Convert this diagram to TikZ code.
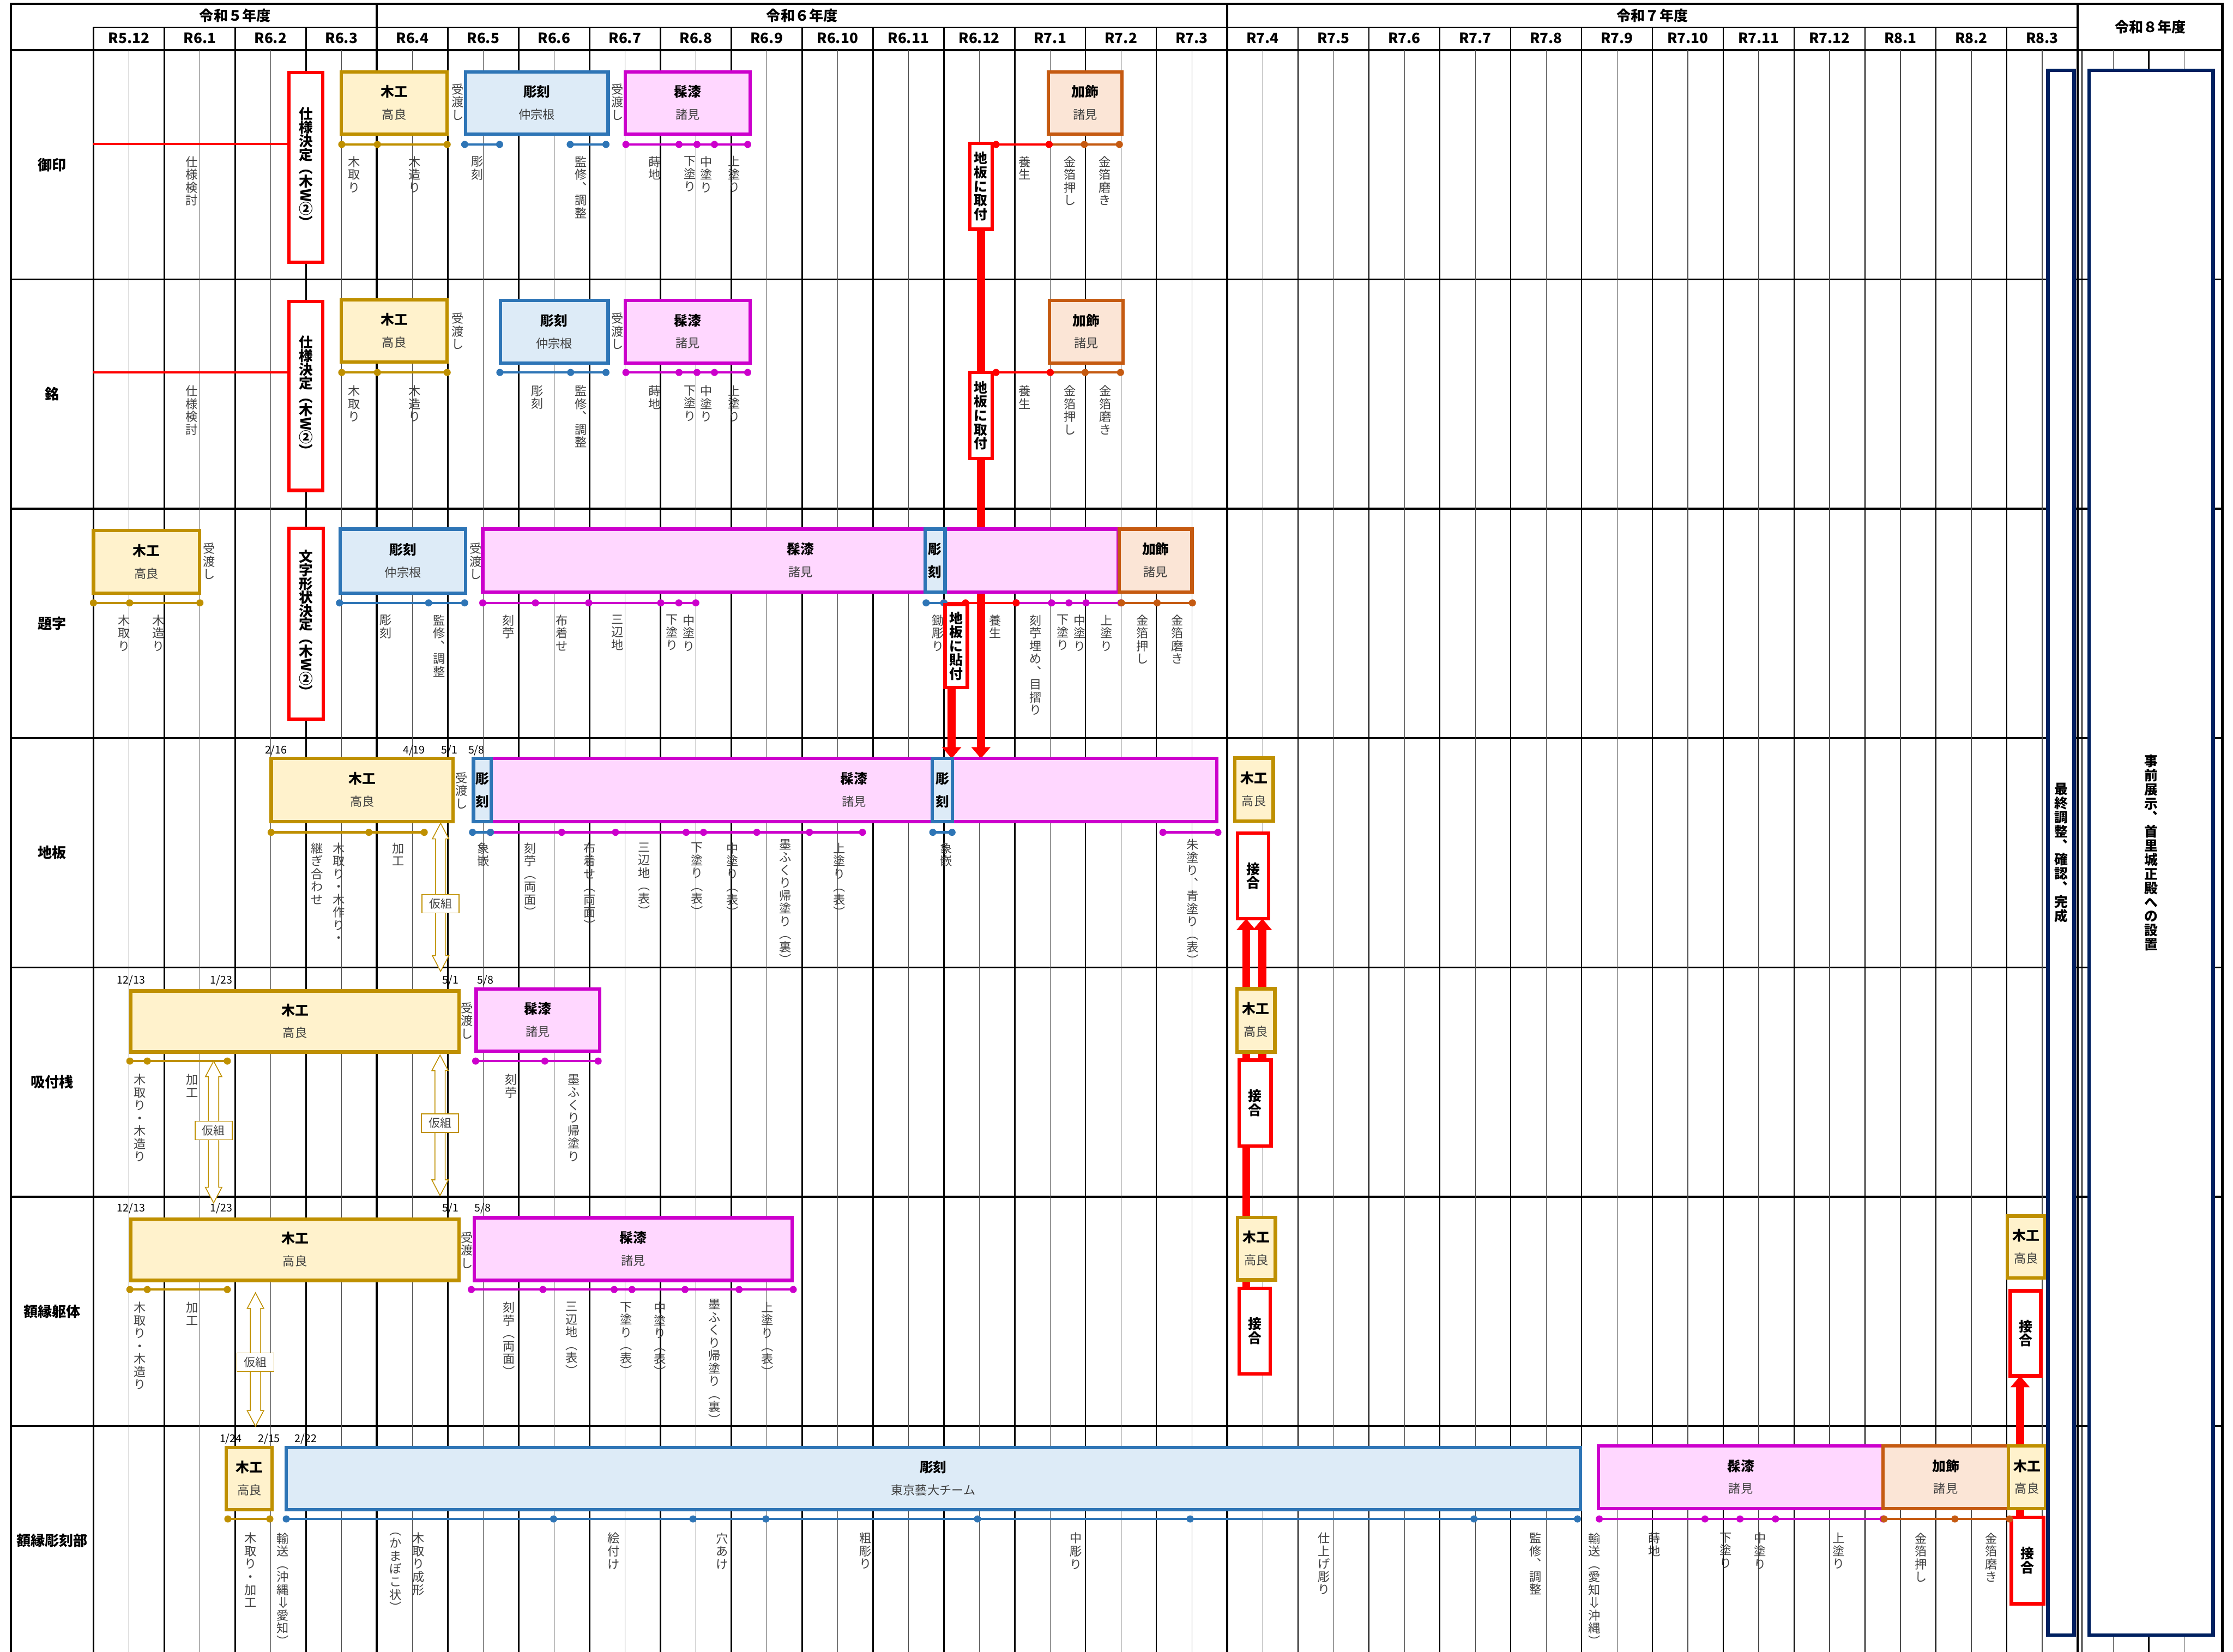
\documentclass[tikz,border=0pt]{standalone}
\usepackage{fontspec}
\setmainfont{Noto Sans CJK JP}
\usepackage{graphicx}
\usetikzlibrary{calc,arrows.meta}
\pgfdeclarelayer{gridl}
\pgfdeclarelayer{bgl}
\pgfsetlayers{gridl,bgl,main}

\definecolor{gold}{HTML}{BF9000}
\definecolor{goldfill}{HTML}{FFF2CC}
\definecolor{cblue}{HTML}{2E75B6}
\definecolor{bluefill}{HTML}{DDEBF7}
\definecolor{mag}{HTML}{CC00CC}
\definecolor{magfill}{HTML}{FFD7FF}
\definecolor{orng}{HTML}{C55A11}
\definecolor{orngfill}{HTML}{FBE5D6}
\definecolor{navy}{HTML}{002060}
\definecolor{labgray}{HTML}{404040}
\definecolor{redc}{HTML}{FF0000}

% vertical (tategaki) stacking of characters
\def\vsEND{\vsEND}
\def\vsENDm{\vsEND}
\def\vstkA#1{\def\vstmp{#1}\ifx\vstmp\vsENDm\else\hbox to 1.05em{\hss#1\hss}\expandafter\vstkA\fi}
\newcommand\vstk[1]{\vtop{\lineskiplimit=-100pt\relax\lineskip=0pt\relax\vstkA#1\vsEND}}
\newcommand\RW{\rotatebox[origin=c]{-90}{W}}
\newcommand\DA{\rotatebox[origin=c]{-90}{⇒}}

\tikzset{
  bxbase/.style={inner sep=0pt, outer sep=0pt, line width=2.4pt},
  goldbox/.style={bxbase, draw=gold, fill=goldfill},
  bluebox/.style={bxbase, draw=cblue, fill=bluefill},
  magbox/.style={bxbase, draw=mag, fill=magfill},
  orbox/.style={bxbase, draw=orng, fill=orngfill},
  redbox/.style={bxbase, draw=redc, fill=white},
  navybox/.style={bxbase, draw=navy, fill=white},
  boxttl/.style={inner sep=0pt, font=\fontsize{9.5pt}{11pt}\selectfont\bfseries},
  boxsub/.style={inner sep=0pt, text=labgray, font=\fontsize{8.5pt}{10pt}\selectfont},
  vlab/.style={inner sep=0pt, anchor=north, text=labgray, font=\fontsize{8.5pt}{9pt}\selectfont},
  vred/.style={inner sep=0pt, font=\fontsize{9.8pt}{9.5pt}\selectfont\bfseries},
  vjoin/.style={inner sep=0pt, font=\fontsize{9.5pt}{9.8pt}\selectfont\bfseries},
  vnavy/.style={inner sep=0pt, font=\fontsize{9.5pt}{9.9pt}\selectfont\bfseries},
  datelab/.style={inner sep=0pt, font=\fontsize{7.5pt}{9pt}\selectfont},
  rowlab/.style={inner sep=0pt, font=\fontsize{10pt}{12pt}\selectfont\bfseries},
  hdr/.style={inner sep=0pt, font=\fontsize{10pt}{12pt}\selectfont\bfseries},
  kumilab/.style={draw=gold, fill=white, line width=0.6pt, minimum width=26pt, minimum height=13pt, inner sep=0pt, text=labgray, font=\fontsize{8pt}{9pt}\selectfont},
  kumiarr/.style={draw=gold, fill=white, line width=0.6pt},
  redthick/.style={draw=redc, line width=5.5pt},
  redtip/.style={-{Triangle[width=13pt,length=8pt]}},
  monthl/.style={line width=1pt, black},
  halfl/.style={line width=0.45pt, black!70},
  yearl/.style={line width=1.6pt, black},
  rowl/.style={line width=1.3pt, black},
}

\newcount\labn
\newcommand\bx[6]{\node[#2, anchor=north west, minimum width={(#5)-(#3)}, minimum height={(#6)-(#4)}] (#1) at (#3,#4) {};}
\newcommand\bt[3]{\node[boxttl] (#1-t) at ($(#1.center)+(0,-8)$) {#2};\node[boxsub] (#1-s) at ($(#1.center)+(0,8)$) {#3};}
\newcommand\bv[1]{\node[boxttl] (#1-t) at ($(#1.center)+(0,-8)$) {彫};\node[boxttl] (#1-s) at ($(#1.center)+(0,8)$) {刻};}
\newcommand\vl[3]{\global\advance\labn by 1 \node[vlab] (L\the\labn) at (#1,#2) {\vstk{#3}};}
\newcommand\tline[5]{\draw[draw=#1, line width=1.7pt] (#3,#2) -- (#4,#2);\foreach \a in {#3,#4#5}{\fill[#1] (\a,#2) circle[radius=2.5pt];}}
\newcommand\kumi[5]{%
  \draw[kumiarr] (#2-3.6,#3+11) -- (#2-5.8,#3+11) -- (#2,#3) -- (#2+5.8,#3+11) -- (#2+3.6,#3+11) -- (#2+3.6,#4-11) -- (#2+5.8,#4-11) -- (#2,#4) -- (#2-5.8,#4-11) -- (#2-3.6,#4-11) -- cycle;
  \node[kumilab] (#1) at (#2,#5) {仮組};}

\begin{document}
\begin{tikzpicture}[x=1pt,y=-1pt]
\useasboundingbox (0,0) rectangle (1568,1159.6);

% ---------------- grid ----------------
\begin{pgfonlayer}{gridl}
\fill[white] (0,0) rectangle (1568,1159.6);
\draw[line width=0.8pt] (65.6,19) -- (1458.9,19);
\foreach \yy in {35.2,196.2,357.2,518.2,679.2,840.2,1001.2} \draw[rowl] (7.5,\yy) -- (1560.5,\yy);
\foreach \i in {0,...,27}{\pgfmathsetmacro\xx{65.6+49.76*(\i+0.5)}\draw[halfl] (\xx,35.2) -- (\xx,1170);}
\foreach \i in {0,...,28}{\pgfmathsetmacro\xx{65.6+49.76*\i}\draw[monthl] (\xx,19) -- (\xx,1170);}
\foreach \i in {4,16,28}{\pgfmathsetmacro\xx{65.6+49.76*\i}\draw[yearl] (\xx,2.8) -- (\xx,1170);}
\draw[line width=0.8pt] (1461.8,35.2) -- (1461.8,1170);
\draw[monthl] (1508.8,35.2) -- (1508.8,1170);
\draw[halfl] (1483.9,35.2) -- (1483.9,1170);
\draw[halfl] (1533.6,35.2) -- (1533.6,1170);
\draw[yearl] (7.5,1170) -- (7.5,2.8) -- (1560.5,2.8) -- (1560.5,1170);
\end{pgfonlayer}

% ---------------- header ----------------
\node[hdr] (h5) at (165.1,10.8) {令和５年度};
\node[hdr] (h6) at (563.2,10.8) {令和６年度};
\node[hdr] (h7) at (1160.3,10.8) {令和７年度};
\node[hdr] (h8) at (1510,19) {令和８年度};
\foreach \m [count=\k from 0] in {R5.12,R6.1,R6.2,R6.3,R6.4,R6.5,R6.6,R6.7,R6.8,R6.9,R6.10,R6.11,R6.12,R7.1,R7.2,R7.3,R7.4,R7.5,R7.6,R7.7,R7.8,R7.9,R7.10,R7.11,R7.12,R8.1,R8.2,R8.3}
  \node[hdr] (m\k) at ({65.6+49.76*(\k+0.5)},26.6) {\m};

% ---------------- row labels ----------------
\node[rowlab] (r1) at (36.5,115.7) {御印};
\node[rowlab] (r2) at (36.5,276.7) {銘};
\node[rowlab] (r3) at (36.5,437.7) {題字};
\node[rowlab] (r4) at (36.5,598.7) {地板};
\node[rowlab] (r5) at (36.5,759.7) {吸付桟};
\node[rowlab] (r6) at (36.5,920.7) {額縁躯体};
\node[rowlab] (r7) at (36.5,1081.7) {額縁彫刻部};

% ================= 御印 =================
\coordinate (rl1) at (65.6,101.2);
\bx{g1s}{redbox}{203}{51}{226.7}{184}
\draw[redc, line width=1.5pt] (rl1) -- (rl1 -| g1s.west);
\bx{g1k}{goldbox}{239.6}{50.5}{314}{94.3}
\bx{g1c}{bluebox}{327}{50.5}{427}{94.3}
\bx{g1u}{magbox}{439}{50.5}{526.8}{94.3}
\bx{g1d}{orbox}{736}{50.5}{787.8}{94.3}
\bt{g1k}{木工}{高良}
\bt{g1c}{彫刻}{仲宗根}
\bt{g1u}{髹漆}{諸見}
\bt{g1d}{加飾}{諸見}
\tline{gold}{101.4}{240}{314}{,265}
\tline{cblue}{101.4}{326.3}{350.8}{}
\tline{cblue}{101.4}{400.4}{425.5}{}
\tline{mag}{101.4}{439.5}{525}{,476.8,489.4,501.7}
\tline{orng}{101.4}{736.7}{786}{,761.4}
\tline{redc}{101.4}{699.4}{736.7}{}
\bx{g1j}{redbox}{681}{100.6}{696.6}{161}
\node[vred] at (g1s.center) {\vstk{仕様決定︵木\RW②︶}};
\node[vjoin] at (g1j.center) {\vstk{地板に取付}};
\vl{321.5}{58.5}{受渡し}
\vl{433.6}{58.5}{受渡し}
\vl{134.6}{109.5}{仕様検討}
\vl{248.5}{109.5}{木取り}
\vl{291}{109.5}{木造り}
\vl{335}{109.5}{彫刻}
\vl{408}{109.5}{監修︑調整}
\vl{459.5}{109.5}{蒔地}
\vl{484.3}{109.5}{下塗り}
\vl{496}{109.5}{中塗り}
\vl{515.6}{109.5}{上塗り}
\vl{719.4}{109.5}{養生}
\vl{751.4}{109.5}{金箔押し}
\vl{775.9}{109.5}{金箔磨き}

% ================= 銘 =================
\coordinate (rl2) at (65.6,261.5);
\bx{g2s}{redbox}{203}{211.6}{226.7}{344.3}
\draw[redc, line width=1.5pt] (rl2) -- (rl2 -| g2s.west);
\bx{g2k}{goldbox}{239.6}{210.5}{314}{254.2}
\bx{g2c}{bluebox}{351.4}{211}{427}{255}
\bx{g2u}{magbox}{439}{211}{526.8}{255}
\bx{g2d}{orbox}{737}{211}{788.5}{255}
\bt{g2k}{木工}{高良}
\bt{g2c}{彫刻}{仲宗根}
\bt{g2u}{髹漆}{諸見}
\bt{g2d}{加飾}{諸見}
\tline{gold}{261.5}{240}{314}{,265}
\tline{cblue}{261.5}{351}{425.5}{,400.7}
\tline{mag}{261.5}{439.5}{525}{,476.8,489.4,501.7}
\tline{orng}{261.5}{737.5}{786.8}{,762}
\tline{redc}{261.5}{699.4}{737.5}{}
\bx{g2j}{redbox}{681}{261.5}{696.6}{322}
\node[vred] at (g2s.center) {\vstk{仕様決定︵木\RW②︶}};
\node[vjoin] at (g2j.center) {\vstk{地板に取付}};
\vl{321.5}{219.5}{受渡し}
\vl{433.6}{219.5}{受渡し}
\vl{134.6}{270.5}{仕様検討}
\vl{248.5}{270.5}{木取り}
\vl{291}{270.5}{木造り}
\vl{377.3}{270.5}{彫刻}
\vl{408}{270.5}{監修︑調整}
\vl{459.5}{270.5}{蒔地}
\vl{484.3}{270.5}{下塗り}
\vl{496}{270.5}{中塗り}
\vl{515.6}{270.5}{上塗り}
\vl{719.4}{270.5}{養生}
\vl{751.4}{270.5}{金箔押し}
\vl{776}{270.5}{金箔磨き}

% ================= 題字 =================
\bx{g3k}{goldbox}{65.6}{372.6}{140}{416.5}
\bx{g3s}{redbox}{203}{371}{227}{504.8}
\bx{g3c}{bluebox}{239}{371.5}{327}{416.5}
\bx{g3u}{magbox}{339}{371.5}{785.3}{415.8}
\bx{g3c2}{bluebox}{649.5}{371.5}{663.6}{415.8}
\bx{g3d}{orbox}{786}{371.5}{837}{415.8}
\bt{g3k}{木工}{高良}
\bt{g3c}{彫刻}{仲宗根}
\bt{g3u}{髹漆}{諸見}
\bv{g3c2}
\bt{g3d}{加飾}{諸見}
\tline{gold}{423.3}{65.6}{140.4}{,91}
\tline{cblue}{423.3}{238.4}{326.3}{,301}
\tline{mag}{423.3}{339}{488.6}{,376,413.4,464,476.7}
\tline{mag}{423.3}{713.5}{787}{,738.4,750.6,762.6}
\tline{orng}{423.3}{787.5}{837.3}{,812.5}
\tline{redc}{423.3}{662.8}{713.5}{,678}
\tline{cblue}{423.3}{650.3}{662.8}{}
\bx{g3t}{redbox}{663.6}{424.4}{679.3}{482.8}
\node[vred] at (g3s.center) {\vstk{文字形状決定︵木\RW②︶}};
\node[vjoin] at (g3t.center) {\vstk{地板に貼付}};
\vl{147}{381}{受渡し}
\vl{334}{381}{受渡し}
\vl{87}{431.5}{木取り}
\vl{111.2}{431.5}{木造り}
\vl{271}{431.5}{彫刻}
\vl{308.4}{431.5}{監修︑調整}
\vl{357}{431.5}{刻苧}
\vl{394.5}{431.5}{布着せ}
\vl{433.5}{431.5}{三辺地}
\vl{472}{431.5}{下塗り}
\vl{483.8}{431.5}{中塗り}
\vl{658.5}{431.5}{鋤彫り}
\vl{698.8}{431.5}{養生}
\vl{727}{431.5}{刻苧埋め︑目摺り}
\vl{746.3}{431.5}{下塗り}
\vl{758.3}{431.5}{中塗り}
\vl{777}{431.5}{上塗り}
\vl{802.2}{431.5}{金箔押し}
\vl{826.7}{431.5}{金箔磨き}

% ================= 地板 =================
\bx{g4k}{goldbox}{190.4}{532.6}{318.2}{577}
\bx{g4u}{magbox}{345}{532.6}{854.3}{577}
\bx{g4c}{bluebox}{332.5}{532.6}{345}{577}
\bx{g4c2}{bluebox}{654.6}{532.6}{668.7}{577}
\bx{g4k2}{goldbox}{867}{532.3}{894}{576.5}
\bx{g4j}{redbox}{869}{585}{890.8}{645}
\bt{g4k}{木工}{高良}
\bt{g4u}{髹漆}{諸見}
\bv{g4c}
\bv{g4c2}
\bt{g4k2}{木工}{高良}
\node[vjoin] at (g4j.center) {\vstk{接合}};
\node[datelab] (d41) at (193.8,526.8) {2/16};
\node[datelab] (d42) at (290.7,526.8) {4/19};
\node[datelab] (d43) at (315.5,526.8) {5/1};
\node[datelab] (d44) at (334.5,526.8) {5/8};
\tline{gold}{584.4}{190.4}{297.9}{,259}
\tline{mag}{584.4}{344.4}{605.6}{,394.4,432.2,481.8,494,531.4,568.4}
\tline{cblue}{584.4}{331.8}{344.4}{}
\tline{cblue}{584.4}{655}{668.5}{}
\tline{mag}{584.4}{816.6}{855.2}{}
\vl{324}{542}{受渡し}
\vl{222.7}{591.5}{継ぎ合わせ}
\vl{238}{591.5}{木取り・木作り・}
\vl{279.5}{591.5}{加工}
\vl{339.3}{591.5}{象嵌}
\vl{372.3}{591.5}{刻苧︵両面︶}
\vl{414}{591.5}{布着せ︵両面︶}
\vl{452.2}{591.5}{三辺地︵表︶}
\vl{489.6}{591.5}{下塗り︵表︶}
\vl{514.4}{591.5}{中塗り︵表︶}
\vl{551.6}{589}{墨ふくり帰塗り︵裏︶}
\vl{589.3}{591.5}{上塗り︵表︶}
\vl{664.3}{591.5}{象嵌}
\vl{837.5}{589}{朱塗り︑青塗り︵表︶}
\kumi{k4}{309.4}{578}{682}{634.5}

% ================= 吸付桟 =================
\bx{g5k}{goldbox}{92}{695.8}{322.3}{738.6}
\bx{g5u}{magbox}{334.4}{694.5}{421}{738}
\bx{g5k2}{goldbox}{868.5}{694.2}{895.2}{738.6}
\bx{g5j}{redbox}{870}{744.4}{892.5}{804.6}
\bt{g5k}{木工}{高良}
\bt{g5u}{髹漆}{諸見}
\bt{g5k2}{木工}{高良}
\node[vjoin] at (g5j.center) {\vstk{接合}};
\node[datelab] (d51) at (92,688.5) {12/13};
\node[datelab] (d52) at (155.4,688.5) {1/23};
\node[datelab] (d53) at (316.4,688.5) {5/1};
\node[datelab] (d54) at (340.8,688.5) {5/8};
\tline{gold}{745}{91.2}{159.6}{,103.4}
\tline{mag}{745}{334}{420}{,382.6}
\vl{328}{703.6}{受渡し}
\vl{98.4}{754}{木取り・木造り}
\vl{134.9}{754}{加工}
\vl{359}{754}{刻苧}
\vl{402.8}{754}{墨ふくり帰塗り}
\kumi{k5a}{150}{745}{844.6}{793.7}
\kumi{k5b}{309}{740.8}{839.4}{788.5}

% ================= 額縁躯体 =================
\bx{g6k}{goldbox}{92}{856}{322.3}{899}
\bx{g6u}{magbox}{333}{855}{556.3}{899}
\bx{g6k2}{goldbox}{869}{854.8}{895.6}{898.6}
\bx{g6j}{redbox}{870}{904.5}{892}{964.6}
\bx{g6k3}{goldbox}{1409.4}{853.9}{1436}{897.4}
\bx{g6j3}{redbox}{1411.6}{906.3}{1433}{966}
\bt{g6k}{木工}{高良}
\bt{g6u}{髹漆}{諸見}
\bt{g6k2}{木工}{高良}
\bt{g6k3}{木工}{高良}
\node[vjoin] at (g6j.center) {\vstk{接合}};
\node[vjoin] at (g6j3.center) {\vstk{接合}};
\node[datelab] (d61) at (92,848.5) {12/13};
\node[datelab] (d62) at (155.4,848.5) {1/23};
\node[datelab] (d63) at (316.4,848.5) {5/1};
\node[datelab] (d64) at (339,848.5) {5/8};
\tline{gold}{905.4}{91.2}{159.6}{,103.4}
\tline{mag}{905.4}{331}{557}{,381.2,431.3,443.8,481,519}
\vl{328}{864.7}{受渡し}
\vl{98.4}{914}{木取り・木造り}
\vl{134.9}{914}{加工}
\vl{357.2}{914}{刻苧︵両面︶}
\vl{401.6}{914}{三辺地︵表︶}
\vl{439.6}{914}{下塗り︵表︶}
\vl{463.6}{914}{中塗り︵表︶}
\vl{501.6}{912}{墨ふくり帰塗り︵裏︶}
\vl{538.8}{914}{上塗り︵表︶}
\kumi{k6}{179.4}{907.7}{1001.4}{956.4}

% ================= 額縁彫刻部 =================
\bx{g7k}{goldbox}{159}{1016.3}{191.1}{1060}
\bx{g7c}{bluebox}{201}{1016.3}{1109.7}{1060}
\bx{g7u}{magbox}{1122.4}{1015.3}{1322.3}{1059.2}
\bx{g7d}{orbox}{1322.3}{1015.3}{1410.3}{1059.2}
\bx{g7k2}{goldbox}{1410.3}{1015.3}{1436.4}{1059.2}
\bx{g7j}{redbox}{1412.4}{1065.4}{1435}{1126}
\bt{g7k}{木工}{高良}
\bt{g7c}{彫刻}{東京藝大チーム}
\bt{g7u}{髹漆}{諸見}
\bt{g7d}{加飾}{諸見}
\bt{g7k2}{木工}{高良}
\node[vjoin] at (g7j.center) {\vstk{接合}};
\node[datelab] (d71) at (162,1010.4) {1/24};
\node[datelab] (d72) at (189,1010.4) {2/15};
\node[datelab] (d73) at (214.7,1010.4) {2/22};
\tline{gold}{1066.5}{160}{189.5}{}
\tline{cblue}{1066.5}{201}{1107.7}{,388.7,486.6,537.8,686.4,835.7,1035}
\tline{mag}{1066.5}{1123}{1322.3}{,1197.2,1221.8,1246.7}
\tline{orng}{1066.5}{1323}{1411}{,1372.7}
\vl{176}{1076}{木取り・加工}
\vl{198.7}{1076}{輸送︵沖縄\DA 愛知︶}
\vl{293.9}{1076}{木取り成形}
\vl{277.9}{1076}{︵かまぼこ状︶}
\vl{431}{1076}{絵付け}
\vl{507}{1076}{穴あけ}
\vl{607.8}{1076}{粗彫り}
\vl{755.5}{1076}{中彫り}
\vl{929.5}{1076}{仕上げ彫り}
\vl{1078.4}{1076}{監修︑調整}
\vl{1119.5}{1076}{輸送︵愛知\DA 沖縄︶}
\vl{1161.8}{1076}{蒔地}
\vl{1212}{1076}{下塗り}
\vl{1235.9}{1076}{中塗り}
\vl{1291}{1076}{上塗り}
\vl{1348.8}{1076}{金箔押し}
\vl{1398.4}{1076}{金箔磨き}

% ================= final columns =================
\bx{fin}{navybox}{1438}{49.5}{1456.4}{1148}
\bx{disp}{navybox}{1467}{49.5}{1554}{1148}
\node[vnavy] at (fin.center) {\vstk{最終調整︑確認︑完成}};
\node[vnavy] at (disp.center) {\vstk{事前展示︑首里城正殿への設置}};

% ================= red connectors (behind boxes) =================
\begin{pgfonlayer}{bgl}
\draw[redthick] (g1j.south) -- (g2j.north);
\draw[redthick, redtip] (g2j.south) -- (g2j.south |- g4u.north);
\coordinate (tbx) at ($(g3t.south)+(-3.2,0)$);
\draw[redthick, redtip] (tbx) -- (tbx |- g4u.north);
\coordinate (ua1) at (875,930);
\draw[redthick, redtip] (ua1) -- (ua1 |- g4j.south);
\coordinate (ua2) at (886.4,770);
\draw[redthick, redtip] (ua2) -- (ua2 |- g4j.south);
\coordinate (ua3) at (1418.5,1090);
\draw[redthick, redtip] (ua3) -- (ua3 |- g6j3.south);
\end{pgfonlayer}
\end{tikzpicture}
\end{document}
